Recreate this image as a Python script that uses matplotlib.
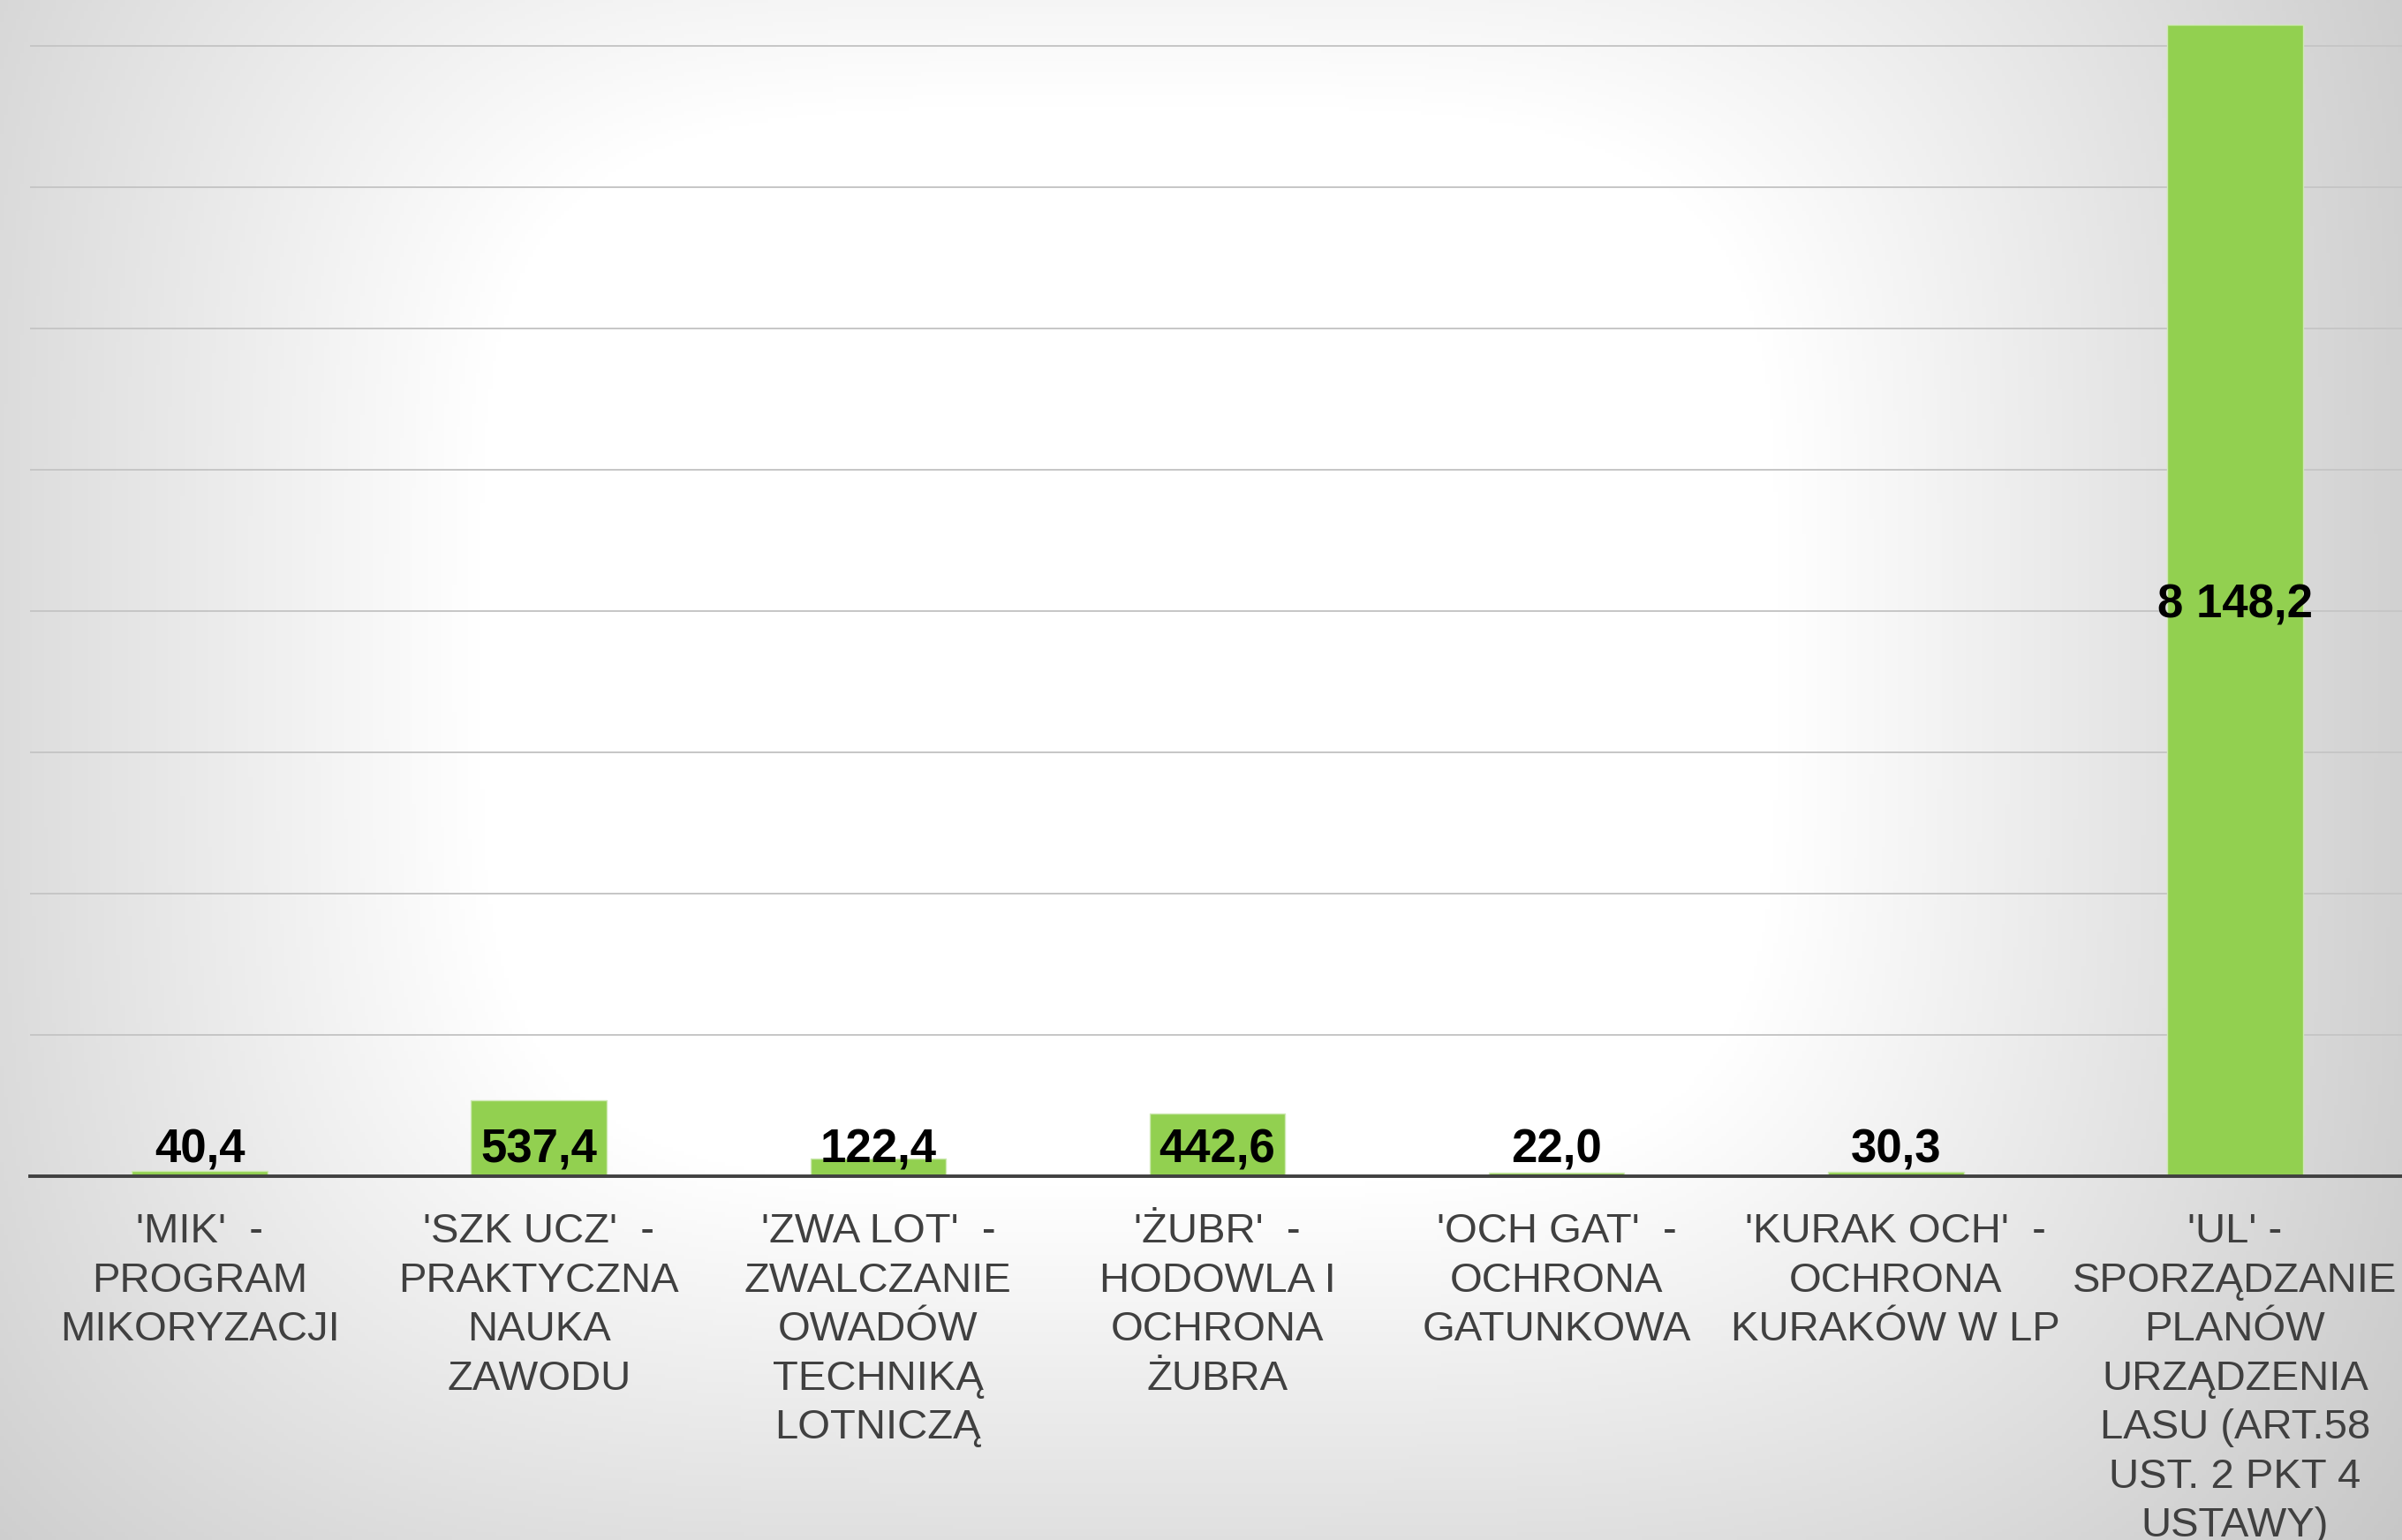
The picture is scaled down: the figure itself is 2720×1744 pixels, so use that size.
import numpy as np
import matplotlib
matplotlib.use("Agg")
import matplotlib.pyplot as plt
from matplotlib import transforms

plt.rcParams['font.family'] = ['Liberation Sans', 'DejaVu Sans']

# Category labels, already split into lines
categories = [
    ["'MIK'  -", "PROGRAM", "MIKORYZACJI"],
    ["'SZK UCZ'  -", "PRAKTYCZNA", "NAUKA", "ZAWODU"],
    ["'ZWA LOT'  -", "ZWALCZANIE", "OWADÓW", "TECHNIKĄ", "LOTNICZĄ"],
    ["'ŻUBR'  -", "HODOWLA I", "OCHRONA", "ŻUBRA"],
    ["'OCH GAT'  -", "OCHRONA", "GATUNKOWA"],
    ["'KURAK OCH'  -", "OCHRONA", "KURAKÓW W LP"],
    ["'UL' -", "SPORZĄDZANIE", "PLANÓW", "URZĄDZENIA", "LASU (ART.58", "UST. 2 PKT 4", "USTAWY)"],
]
values = np.array([40.4, 537.4, 122.4, 442.6, 22.0, 30.3, 8148.2])
gridlines = np.arange(1000, 9000, 1000)

W, H = 2720, 1744
fig = plt.figure(figsize=(W / 100, H / 100), dpi=100)

# soft grey background, white in the middle
bg = fig.add_axes([0, 0, 1, 1], zorder=-10)
bg.set_axis_off()
yy, xx = np.mgrid[0:1:400j, 0:1:600j]
u = xx - 0.47
v = (yy - 0.42) / 1.3
d = (u ** 4 + v ** 4) ** 0.25
shade = 255 - np.clip(d - 0.27, 0, None) * 176
shade = np.clip(shade, 190, 255) / 255
bg.imshow(np.dstack([shade] * 3), extent=[0, 1, 0, 1], aspect='auto', origin='upper')

ax = fig.add_axes([34 / W, 1 - 1332 / H, 2689 / W, 1332 / H])
ax.set_facecolor('none')
x = np.arange(len(values))
ax.bar(x, values, width=0.4, color='#92D050', edgecolor='#cfe9b4', linewidth=1.0, zorder=2)

ax.set_xlim(-0.5, len(values) - 0.5)
ax.set_ylim(0, 8325)
ax.set_yticks(gridlines)
ax.yaxis.grid(True, color='#c6c6c6', linewidth=1.4, zorder=0)
ax.set_axisbelow(True)
ax.tick_params(left=False, labelleft=False, bottom=False, labelbottom=False)
for s in ax.spines.values():
    s.set_visible(False)
ax.axhline(0, color='#404040', linewidth=2.8, clip_on=False, zorder=3)

# value labels: mid-bar for tall bars, fixed height for short ones
label_y = np.where(values > 1000, values / 2, 220)
for xi, val, ly in zip(x, values, label_y):
    txt = f"{val:,.1f}".replace(',', ' ').replace('.', ',')
    ax.text(xi, ly, txt, ha='center', va='center_baseline', fontsize=38,
            fontweight='bold', color='black', zorder=4)

# category labels, one text per line
trans = transforms.blended_transform_factory(ax.transData, fig.transFigure)
for xi, lines in zip(x, categories):
    for k, line in enumerate(lines):
        fig.text(xi, 1 - (1407 + 55.5 * k) / H, line, transform=trans,
                 ha='center', va='baseline', fontsize=34, color='#404040')

fig.savefig('out.png', dpi=100)
